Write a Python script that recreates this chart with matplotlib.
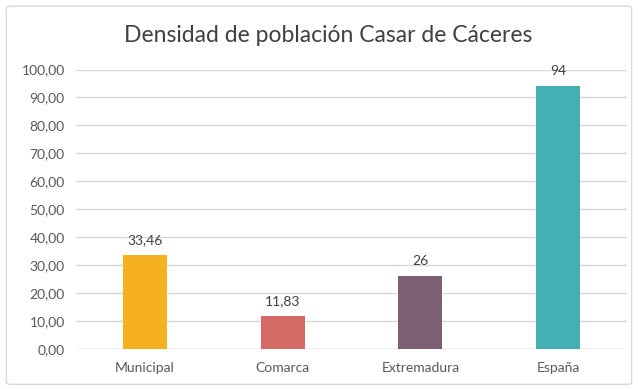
import matplotlib.pyplot as plt
from matplotlib.patches import FancyBboxPatch

categories = ['Municipal', 'Comarca', 'Extremadura', 'España']
densidad = [33.46, 11.83, 26, 94]
etiquetas = ['33,46', '11,83', '26', '94']
colores = ['#F6B120', '#D46A66', '#7E5F74', '#45B0B3']
yticks = [0, 10, 20, 30, 40, 50, 60, 70, 80, 90, 100]

plt.rcParams['font.family'] = ['Lato', 'DejaVu Sans']

fig = plt.figure(figsize=(6.38, 3.89), dpi=100)
fig.patch.set_facecolor('white')

# thin frame around the whole chart
frame = FancyBboxPatch((0.010, 0.012), 0.980, 0.972, boxstyle='round,pad=0,rounding_size=0.006',
                       transform=fig.transFigure, facecolor='none', edgecolor='#D9D9D9', lw=1.0)
fig.patches.append(frame)

ax = fig.add_axes([0.119, 0.1028, 0.864, 0.7185])
x = range(len(categories))
bars = ax.bar(x, densidad, width=0.32, color=colores, zorder=3)

for xi, v, lab in zip(x, densidad, etiquetas):
    ax.text(xi, v + 3.2, lab, ha='center', va='bottom', fontsize=10, color='#404040')

ax.set_ylim(0, 100)
ax.set_xlim(-0.5, len(categories) - 0.5)
ax.set_yticks(yticks)
ax.set_yticklabels([f'{t:.2f}'.replace('.', ',') for t in yticks], fontsize=10, color='#595959')
ax.set_xticks(list(x))
ax.set_xticklabels(categories, fontsize=10, color='#595959')
ax.tick_params(axis='both', length=0, pad=8)
ax.tick_params(axis='x', pad=9)
ax.grid(axis='y', color='#D9D9D9', lw=1.0, zorder=0)
for s in ax.spines.values():
    s.set_visible(False)
ax.axhline(0, color='#D9D9D9', lw=1.0, zorder=2)

fig.text(0.515, 0.91, 'Densidad de población Casar de Cáceres', ha='center', va='center',
         fontsize=16.5, color='#404040')

fig.savefig('out.png', dpi=100)
